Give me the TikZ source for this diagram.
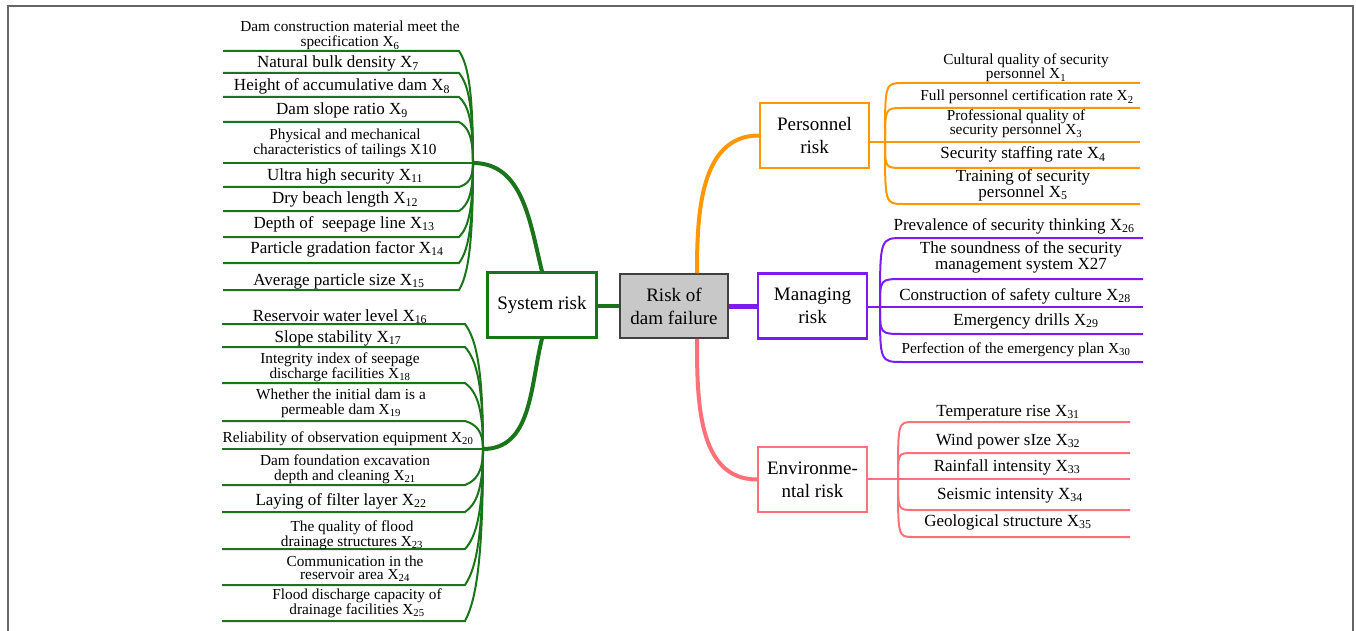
\documentclass[tikz,border=0pt]{standalone}
\usepackage{fontspec}
\setmainfont{Liberation Serif}
\definecolor{sysgreen}{RGB}{26,116,26}
\definecolor{perorange}{RGB}{255,152,0}
\definecolor{manpurple}{RGB}{122,28,242}
\definecolor{envpink}{RGB}{255,112,122}
\definecolor{damgray}{RGB}{200,200,200}
\newcommand\xsub[1]{X\textsubscript{#1}}
\tikzset{
  riskbox/.style={draw, line width=2.2pt, minimum width=109pt, minimum height=65pt,
    align=center, inner sep=2pt, font=\fontsize{19}{23}\selectfont},
  lblbig/.style={anchor=base, inner sep=0pt, align=center, font=\fontsize{17}{15.5}\selectfont},
  lblsmall/.style={anchor=base, inner sep=0pt, align=center, font=\fontsize{15.3}{15}\selectfont},
  lbltight/.style={lblsmall, font=\fontsize{15.3}{13}\selectfont},
  leaf/.style={line width=2pt},
  trunk/.style={line width=4pt},
}
\begin{document}
\begin{tikzpicture}[x=1pt,y=1pt]
  \useasboundingbox (0,0) rectangle (1356,-631);
  \draw[black!60, line width=1.5pt] (8,-640) -- (8,-6) -- (1353,-6) -- (1353,-640);

  % main boxes
  \node[riskbox, fill=damgray, draw=black!75, line width=1.5pt, minimum width=108pt, minimum height=64pt] (dam) at (674,-306) {Risk of\\dam failure};
  \node[riskbox, draw=sysgreen] (sys) at (542,-305) {System risk};
  \node[riskbox, draw=perorange] (per) at (814.5,-135.5) {Personnel\\risk};
  \node[riskbox, draw=manpurple] (man) at (812.5,-306) {Managing\\risk};
  \node[riskbox, draw=envpink] (env) at (812.5,-479.5) {Environme-\\ntal risk};

  \coordinate (st) at (473,-163);
  \coordinate (sb) at (483,-449);
  \coordinate (ph) at (885,-142);
  \coordinate (mh) at (880,-307);
  \coordinate (eh) at (898,-479);

  % trunks
  \draw[trunk, sysgreen] (dam.west -| sys.east) -- (dam.west);
  \draw[trunk, manpurple, line width=5pt] (dam.east) -- (man.west);
  \draw[trunk, sysgreen] (st) to[out=0,in=104] (sys.north);
  \draw[trunk, sysgreen] (sys.south) to[out=-104,in=0] (sb);
  \draw[trunk, perorange] ([xshift=23pt]dam.north) to[out=90,in=180] (per.west);
  \draw[trunk, envpink] ([xshift=23pt]dam.south) to[out=-90,in=180] (env.west);
  \draw[leaf, perorange] (ph -| per.east) -- (ph);
  \draw[leaf, manpurple] (mh -| man.east) -- (mh);
  \draw[leaf, envpink] (eh -| env.east) -- (eh);

  % system risk leaves
  \foreach \n/\y in {6/51,7/73,8/97,9/122,10/163,11/187,12/211,13/237,14/263,15/290}{
    \pgfmathsetmacro\d{163-\y}
    \coordinate (u\n) at (223,-\y);
    \draw[leaf, sysgreen] (u\n) -- (459,-\y) .. controls +(9,-0.12*\d) and +(0,0.65*\d) .. (st);
  }
  \foreach \n/\y in {16/324,17/347,18/383,19/421,20/449,21/485,22/512,23/549,24/585,25/621}{
    \pgfmathsetmacro\d{449-\y}
    \coordinate (u\n) at (222,-\y);
    \draw[leaf, sysgreen] (u\n) -- (465,-\y) .. controls +(11,-0.12*\d) and +(0,0.65*\d) .. (sb);
  }

  % personnel, managing and environmental leaves
  \foreach \n/\y in {1/83,2/108,3/142,4/168,5/204}{
    \coordinate (v\n) at (1140,-\y);
    \draw[leaf, perorange] (ph) .. controls (ph |- v\n) .. (903,-\y) -- (v\n);
  }
  \foreach \n/\y in {26/238,27/279,28/307,29/334,30/362}{
    \coordinate (v\n) at (1143,-\y);
    \draw[leaf, manpurple] (mh) .. controls (mh |- v\n) .. (903,-\y) -- (v\n);
  }
  \foreach \n/\y in {31/422,32/453,33/479,34/510,35/537}{
    \coordinate (v\n) at (1130,-\y);
    \draw[leaf, envpink] (eh) .. controls (eh |- v\n) .. (913,-\y) -- (v\n);
  }

  % labels
  \foreach \n/\x/\y/\s/\t in {
    6/350/47/lblsmall/{Dam construction material meet the\\specification \xsub{6}},
    7/338/68/lblbig/{Natural bulk density \xsub{7}},
    8/342/91/lblbig/{Height of accumulative dam \xsub{8}},
    9/342/115/lblbig/{Dam slope ratio \xsub{9}},
    10/345/155/lblsmall/{Physical and mechanical\\characteristics of tailings X10},
    11/345/180/lblbig/{Ultra high security \xsub{11}},
    12/345/204/lblbig/{Dry beach length \xsub{12}},
    13/344/228/lblbig/{Depth of \ seepage line \xsub{13}},
    14/347/253/lblbig/{Particle gradation factor \xsub{14}},
    15/339/285/lblbig/{Average particle size \xsub{15}},
    16/340/321/lblbig/{Reservoir water level \xsub{16}},
    17/338/342/lblbig/{Slope stability \xsub{17}},
    18/340/378/lblsmall/{Integrity index of seepage\\discharge facilities \xsub{18}},
    19/341/414/lblsmall/{Whether the initial dam is a\\permeable dam \xsub{19}},
    20/348/442/lblsmall/{Reliability of observation equipment \xsub{20}},
    21/345/480/lblsmall/{Dam foundation excavation\\depth and cleaning \xsub{21}},
    22/341/505/lblbig/{Laying of filter layer \xsub{22}},
    23/352/546/lblsmall/{The quality of flood\\drainage structures \xsub{23}},
    24/355/579/lbltight/{Communication in the\\reservoir area \xsub{24}},
    25/357/614/lblsmall/{Flood discharge capacity of\\drainage facilities \xsub{25}},
    1/1026/79/lbltight/{Cultural quality of security\\personnel \xsub{1}},
    2/1027/101/lblsmall/{Full personnel certification rate \xsub{2}},
    3/1016/135/lbltight/{Professional quality of\\security personnel \xsub{3}},
    4/1023/159/lblbig/{Security staffing rate \xsub{4}},
    5/1023/197/lblbig/{Training of security\\personnel \xsub{5}},
    26/1014/230/lblbig/{Prevalence of security thinking \xsub{26}},
    27/1021/269/lblbig/{The soundness of the security\\management system X27},
    28/1015/300/lblbig/{Construction of safety culture \xsub{28}},
    29/1026/325/lblbig/{Emergency drills \xsub{29}},
    30/1016/353/lblsmall/{Perfection of the emergency plan \xsub{30}},
    31/1008/416/lblbig/{Temperature rise \xsub{31}},
    32/1008/445/lblbig/{Wind power sIze \xsub{32}},
    33/1007/471/lblbig/{Rainfall intensity \xsub{33}},
    34/1010/499/lblbig/{Seismic intensity \xsub{34}},
    35/1008/526/lblbig/{Geological structure \xsub{35}}}
    \node[\s] (t\n) at (\x,-\y) {\t};
\end{tikzpicture}
\end{document}
